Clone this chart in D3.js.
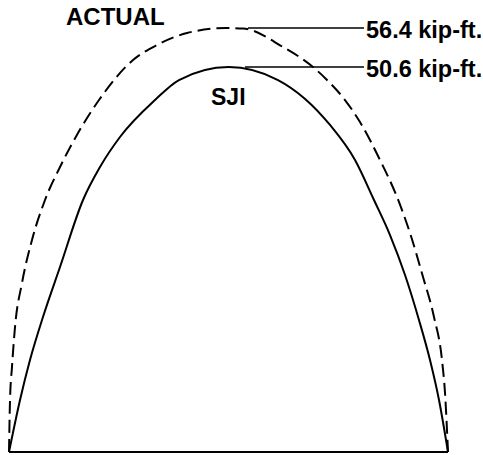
<!DOCTYPE html>
<html>
<head>
  <meta charset="utf-8">
  <title>Moment diagram</title>
  <script src="https://d3js.org/d3.v7.min.js"></script>
  <style>
    body { margin: 0; background: #fff; }
    text { font-family: "Liberation Sans", Arial, sans-serif; font-weight: bold; fill: #000; }
  </style>
</head>
<body>
<script>
var w = 483, h = 455;

// position along span (%), moment (kip-ft)
var actualPos = [0, 0.23, 0.68, 1.37, 2.96, 5.24, 8.2, 11.62, 15.72, 20.5, 28.25, 33.71, 40.55, 49.43, 53.3, 62.41, 69.25, 72.44, 76.54, 79.95, 84.51, 88.38, 91.34, 94.31, 96.81, 98.63, 99.32, 100];
var actualM   = [0, 6.92, 11.31, 16.63, 22.48, 28.2, 33.52, 37.91, 42.43, 46.82, 52.14, 54.14, 55.73, 56.4, 56.33, 53.87, 51.21, 49.49, 46.82, 43.89, 38.84, 33.92, 29.13, 23.28, 17.96, 12.24, 7.85, 0];

var sjiPos = [0, 2.51, 4.78, 7.74, 11.62, 16.86, 20.73, 25.28, 33.26, 38.72, 50.0, 61.28, 73.12, 78.82, 83.14, 86.79, 90.21, 93.39, 95.9, 97.95, 100];
var sjiM   = [0, 6.92, 12.24, 17.96, 24.61, 33.52, 37.91, 41.9, 46.82, 49.48, 51.21, 49.48, 43.5, 38.84, 33.52, 28.86, 23.54, 17.56, 12.24, 6.92, 0];

var peakLabels = ["56.4 kip-ft.", "50.6 kip-ft."];
var seriesNames = ["ACTUAL", "SJI"];

var x = d3.scaleLinear().domain([0, 100]).range([9, 448]);
var y = d3.scaleLinear().domain([0, 56.4]).range([452, 28]);

var svg = d3.select("body").append("svg")
  .attr("width", w)
  .attr("height", h);

var line = d3.line()
  .x(function (d) { return x(d[0]); })
  .y(function (d) { return y(d[1]); })
  .curve(d3.curveMonotoneX);

var actual = d3.zip(actualPos, actualM);
var sji = d3.zip(sjiPos, sjiM);

// base line
svg.append("line")
  .attr("x1", x(0)).attr("x2", x(100))
  .attr("y1", y(0)).attr("y2", y(0))
  .attr("stroke", "#000")
  .attr("stroke-width", 2);

svg.append("path")
  .datum(actual)
  .attr("d", line)
  .attr("fill", "none")
  .attr("stroke", "#000")
  .attr("stroke-width", 2)
  .attr("stroke-dasharray", "13,6");

svg.append("path")
  .datum(sji)
  .attr("d", line)
  .attr("fill", "none")
  .attr("stroke", "#000")
  .attr("stroke-width", 2);

// leader lines to the peak values
var actualPeak = d3.max(actualM);
var sjiPeak = d3.max(sjiM);

svg.append("line")
  .attr("x1", 248).attr("x2", 364)
  .attr("y1", y(actualPeak)).attr("y2", y(actualPeak))
  .attr("stroke", "#000").attr("stroke-width", 1.5);

svg.append("line")
  .attr("x1", 245).attr("x2", 364)
  .attr("y1", y(sjiPeak)).attr("y2", y(sjiPeak))
  .attr("stroke", "#000").attr("stroke-width", 1.5);

svg.append("text")
  .attr("x", 366).attr("y", y(actualPeak) + 10)
  .style("font-size", "23.5px")
  .text(peakLabels[0]);

svg.append("text")
  .attr("x", 366).attr("y", y(sjiPeak) + 10)
  .style("font-size", "23.5px")
  .text(peakLabels[1]);

svg.append("text")
  .attr("x", 66).attr("y", 25)
  .style("font-size", "24px")
  .text(seriesNames[0]);

svg.append("text")
  .attr("x", 211).attr("y", 105)
  .style("font-size", "23px")
  .text(seriesNames[1]);
</script>
</body>
</html>
